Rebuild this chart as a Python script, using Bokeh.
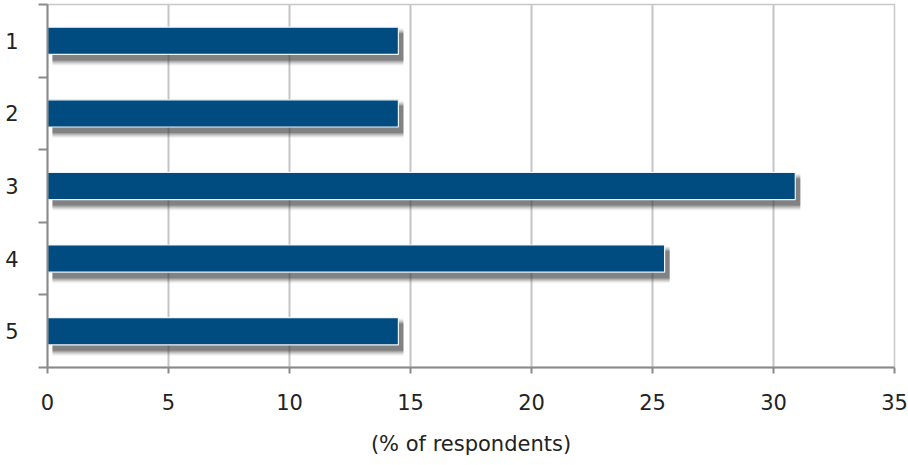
from bokeh.plotting import figure
from bokeh.models import Range1d, FixedTicker, ColumnDataSource
from bokeh.embed import file_html
from bokeh.resources import INLINE

# Survey answers (share of respondents, %)
categories = ["1", "2", "3", "4", "5"]
shares = [14.5, 14.5, 30.9, 25.5, 14.5]
x_ticks = [0, 5, 10, 15, 20, 25, 30, 35]
x_title = "(% of respondents)"

W, H = 908, 465
BL, BR, BT, BB = 47, 14, 4, 98
frame_w = W - BL - BR
frame_h = H - BT - BB

positions = list(range(1, len(categories) + 1))
x_max = 35
y_lo, y_hi = 0.5, len(categories) + 0.5

p = figure(width=W, height=H, output_backend="svg", toolbar_location=None,
           x_range=Range1d(0, x_max), y_range=Range1d(y_hi, y_lo),
           min_border_left=BL, min_border_right=BR,
           min_border_top=BT, min_border_bottom=BB)
p.background_fill_color = "white"
p.border_fill_color = "white"
p.outline_line_color = "#c8c8c8"
p.outline_line_width = 1.5

# pixel -> data conversions for the drop shadow
px_x = x_max / frame_w
px_y = (y_hi - y_lo) / frame_h
bar_h = 0.375

src = ColumnDataSource(dict(y=positions, v=shares))
shadow = ColumnDataSource(dict(
    y=[yy + 6 * px_y for yy in positions],
    left=[5 * px_x] * len(shares),
    right=[v + 5 * px_x for v in shares],
))

# soft shadow: stacked translucent layers that grow outward
for grow, alpha in [(5, 0.06), (4, 0.09), (3, 0.12), (2, 0.16), (1, 0.2), (0, 0.3)]:
    p.hbar(y="y", left="left", right="right", source=shadow,
           height=bar_h + 2 * grow * px_y,
           fill_color="#404040", fill_alpha=alpha, line_color=None)

p.hbar(y="y", left=0, right="v", source=src, height=bar_h,
       fill_color="#004C80", line_color="#eef4f9", line_width=1.2)

label_font = "DejaVu Sans"
label_size = "21px"
text_color = "#222222"

# x axis
p.xaxis.ticker = FixedTicker(ticks=x_ticks)
p.xaxis.axis_label = x_title
p.xaxis.axis_line_color = "#8a8a8a"
p.xaxis.axis_line_width = 2
p.xaxis.major_tick_line_color = "#8a8a8a"
p.xaxis.major_tick_line_width = 2
p.xaxis.major_tick_out = 6
p.xaxis.major_tick_in = 0
p.xaxis.minor_tick_line_color = None
p.xaxis.major_label_text_font = label_font
p.xaxis.major_label_text_font_size = label_size
p.xaxis.major_label_text_color = text_color
p.xaxis.major_label_standoff = 20
p.xaxis.axis_label_text_font = label_font
p.xaxis.axis_label_text_font_size = label_size
p.xaxis.axis_label_text_font_style = "normal"
p.xaxis.axis_label_text_color = text_color
p.xaxis.axis_label_standoff = 19

# y axis: labels at band centres, tick marks on band boundaries
boundaries = [y_lo + i for i in range(len(categories) + 1)]
p.yaxis.ticker = FixedTicker(ticks=positions, minor_ticks=boundaries)
p.yaxis.major_label_overrides = {pos: c for pos, c in zip(positions, categories)}
p.yaxis.axis_line_color = "#8a8a8a"
p.yaxis.axis_line_width = 2
p.yaxis.major_tick_line_color = None
p.yaxis.minor_tick_line_color = "#8a8a8a"
p.yaxis.minor_tick_line_width = 2
p.yaxis.minor_tick_out = 9
p.yaxis.minor_tick_in = 0
p.yaxis.major_label_text_font = label_font
p.yaxis.major_label_text_font_size = label_size
p.yaxis.major_label_text_color = text_color
p.yaxis.major_label_standoff = 20

p.xgrid.ticker = FixedTicker(ticks=x_ticks)
p.xgrid.grid_line_color = "#c4c4c4"
p.xgrid.grid_line_width = 2
p.ygrid.grid_line_color = None

open("out.html", "w").write(file_html(p, INLINE))
